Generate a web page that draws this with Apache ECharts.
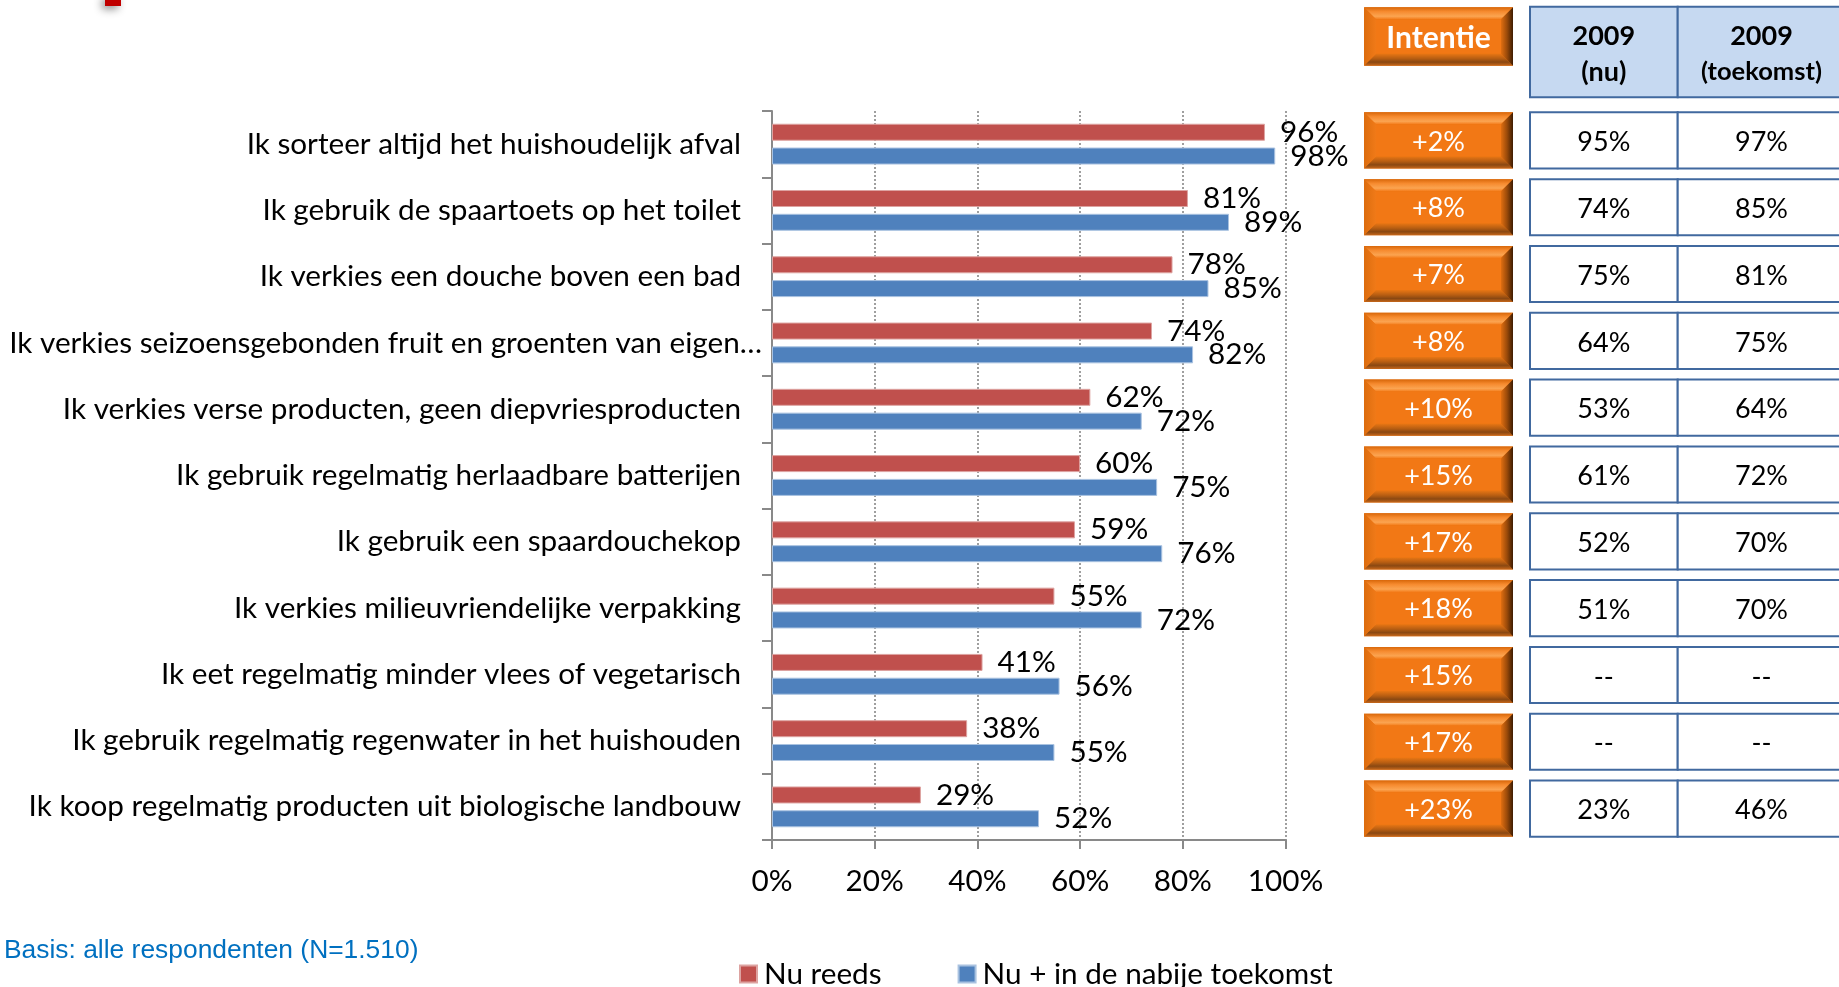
<!DOCTYPE html>
<html><head><meta charset="utf-8">
<script src="https://cdn.jsdelivr.net/npm/echarts@6/dist/echarts.min.js"></script>
<style>html,body{margin:0;padding:0;background:#fff}#c{width:1839px;height:987px}</style>
</head><body><div id="c"></div>
<script>
// ---------------- DATA ----------------
const categories = [
  'Ik sorteer altijd het huishoudelijk afval',
  'Ik gebruik de spaartoets op het toilet',
  'Ik verkies een douche boven een bad',
  'Ik verkies seizoensgebonden fruit en groenten van eigen…',
  'Ik verkies verse producten, geen diepvriesproducten',
  'Ik gebruik regelmatig herlaadbare batterijen',
  'Ik gebruik een spaardouchekop',
  'Ik verkies milieuvriendelijke verpakking',
  'Ik eet regelmatig minder vlees of vegetarisch',
  'Ik gebruik regelmatig regenwater in het huishouden',
  'Ik koop regelmatig producten uit biologische landbouw'
];
const seriesNames = ['Nu reeds', 'Nu + in de nabije toekomst'];
const nuReeds = [96, 81, 78, 74, 62, 60, 59, 55, 41, 38, 29];
const nuToekomst = [98, 89, 85, 82, 72, 75, 76, 72, 56, 55, 52];
const intentie = ['+2%', '+8%', '+7%', '+8%', '+10%', '+15%', '+17%', '+18%', '+15%', '+17%', '+23%'];
const nu2009 = ['95%', '74%', '75%', '64%', '53%', '61%', '52%', '51%', '--', '--', '23%'];
const toekomst2009 = ['97%', '85%', '81%', '75%', '64%', '72%', '70%', '70%', '--', '--', '46%'];
const headerIntentie = 'Intentie';
const headerNu = ['2009', '(nu)'];
const headerToekomst = ['2009', '(toekomst)'];
const basisText = 'Basis: alle respondenten (N=1.510)';

// ---------------- STYLE / LAYOUT ----------------
const FONT = 'Lato';
const FS = 29.7;
const RED = '#C0504D', BLUE = '#4F81BD';
const AXIS_GRAY = '#898989';
const CELL_BORDER = '#41699F';

const chart = echarts.init(document.getElementById('c'), null, {renderer: 'canvas'});

function buttonShape(x, y, w, h, txt, font) {
  const b = 12;
  const LG = echarts.graphic.LinearGradient;
  return {
    type: 'group',
    children: [
      {type: 'rect', shape: {x, y, width: w, height: h}, style: {fill: '#E8720F'}},
      {type: 'polygon', shape: {points: [[x, y], [x + w, y], [x + w - b, y + b], [x + b, y + b]]},
        style: {fill: new LG(0, 0, 0, 1, [{offset: 0, color: '#D8670A'}, {offset: 0.35, color: '#F68A2E'}, {offset: 0.75, color: '#FBA451'}, {offset: 1, color: '#F47C1A'}])}},
      {type: 'polygon', shape: {points: [[x, y + h], [x + w, y + h], [x + w - b, y + h - b], [x + b, y + h - b]]},
        style: {fill: new LG(0, 0, 0, 1, [{offset: 0, color: '#E87614'}, {offset: 0.4, color: '#B85E12'}, {offset: 0.7, color: '#8A4812'}, {offset: 1, color: '#C8681A'}])}},
      {type: 'polygon', shape: {points: [[x, y], [x + b, y + b], [x + b, y + h - b], [x, y + h]]},
        style: {fill: new LG(0, 0, 1, 0, [{offset: 0, color: '#DC6C0E'}, {offset: 1, color: '#F07A18'}])}},
      {type: 'polygon', shape: {points: [[x + w, y], [x + w - b, y + b], [x + w - b, y + h - b], [x + w, y + h]]},
        style: {fill: new LG(0, 0, 1, 0, [{offset: 0, color: '#E06E10'}, {offset: 0.5, color: '#9A4A0A'}, {offset: 1, color: '#3E1C02'}])}},
      {type: 'rect', shape: {x: x + b, y: y + b, width: w - 2 * b, height: h - 2 * b}, style: {fill: '#F27815'}},
      {type: 'text', x: x + w / 2, y: y + h / 2 + 1.5,
        style: {text: txt, fill: '#fff', font: font, align: 'center', verticalAlign: 'middle'}}
    ]
  };
}

function cellShape(x, y, w, h, fill, textStyle, dy) {
  return {
    type: 'group',
    children: [
      {type: 'rect', shape: {x, y, width: w, height: h}, style: {fill: fill, stroke: CELL_BORDER, lineWidth: 2}},
      {type: 'text', x: x + w / 2, y: y + h / 2 + dy,
        style: Object.assign({align: 'center', verticalAlign: 'middle', fill: '#000'}, textStyle)}
    ]
  };
}

// table columns (layout)
const columns = [
  {left: 1364, width: 149, kind: 'button', texts: intentie, header: headerIntentie, hTop: 7.3, hHeight: 58.4},
  {left: 1530, width: 147.7, kind: 'cell', texts: nu2009, header: headerNu, hTop: 6.7, hHeight: 90.6},
  {left: 1677.7, width: 167.6, kind: 'cell', texts: toekomst2009, header: headerToekomst, hTop: 6.7, hHeight: 90.6}
];
const rowsTop = 107, rowsHeight = 735, rowFrac = 0.84;

const grids = [{left: 772, top: 111, width: 513.5, height: 729, containLabel: false, outerBoundsMode: 'none'}];
const xAxes = [{
  type: 'value', gridIndex: 0, min: 0, max: 100, interval: 20,
  axisLine: {show: true, lineStyle: {color: AXIS_GRAY, width: 2}},
  axisTick: {show: true, length: 9, lineStyle: {color: AXIS_GRAY, width: 2}},
  axisLabel: {formatter: '{value}%', margin: 26, fontFamily: FONT, fontSize: FS, color: '#000'},
  splitLine: {show: true, lineStyle: {color: '#808080', width: 1.5, type: [2, 2]}}
}];
const yAxes = [{
  type: 'category', gridIndex: 0, data: categories, inverse: true,
  axisLine: {show: true, lineStyle: {color: AXIS_GRAY, width: 2}},
  axisTick: {show: true, length: 10, lineStyle: {color: AXIS_GRAY, width: 2}},
  splitLine: {show: false},
  axisLabel: {
    interval: 0, margin: 10,
    formatter: v => (v.endsWith('…') ? '{o|' + v + '}' : '{n|' + v + '}'),
    rich: {
      n: {fontFamily: FONT, fontSize: FS, color: '#000', padding: [0, 21, 0, 0]},
      o: {fontFamily: FONT, fontSize: FS, color: '#000'}
    }
  }
}];
const series = [
  {name: seriesNames[0], type: 'bar', xAxisIndex: 0, yAxisIndex: 0, data: nuReeds, barWidth: 17, barGap: '40%',
    itemStyle: {color: RED, borderColor: '#DDA3A1', borderWidth: 1},
    label: {show: true, position: 'right', distance: 15, formatter: '{c}%', fontFamily: FONT, fontSize: FS, color: '#000'}},
  {name: seriesNames[1], type: 'bar', xAxisIndex: 0, yAxisIndex: 0, data: nuToekomst, barWidth: 17, barGap: '40%',
    itemStyle: {color: BLUE, borderColor: '#A9C2E0', borderWidth: 1},
    label: {show: true, position: 'right', distance: 15, formatter: '{c}%', fontFamily: FONT, fontSize: FS, color: '#000'}}
];

columns.forEach((col) => {
  // rows grid
  const gRows = grids.length;
  grids.push({left: col.left, width: col.width, top: rowsTop, height: rowsHeight, containLabel: false, outerBoundsMode: 'none'});
  xAxes.push({type: 'category', gridIndex: gRows, data: [Array.isArray(col.header) ? col.header.join(' ') : col.header], show: false});
  yAxes.push({type: 'category', gridIndex: gRows, data: categories, inverse: true, show: false});
  series.push({
    type: 'custom', xAxisIndex: gRows, yAxisIndex: gRows,
    encode: {x: 0, y: 1},
    data: col.texts.map((t, i) => [0, i]),
    renderItem: (params, api) => {
      const p = api.coord([0, api.value(1)]);
      const s = api.size([1, 1]);
      const w = col.width, h = s[1] * rowFrac;
      const x = p[0] - w / 2, y = p[1] - h / 2;
      const txt = col.texts[params.dataIndex];
      if (col.kind === 'button') return buttonShape(x, y, w, h, txt, '27px ' + FONT);
      return cellShape(x, y, w, h, '#fff', {text: txt, font: '27px ' + FONT}, 2);
    }
  });
  // header grid
  const gHead = grids.length;
  grids.push({left: col.left, width: col.width, top: col.hTop, height: col.hHeight, containLabel: false, outerBoundsMode: 'none'});
  xAxes.push({type: 'category', gridIndex: gHead, data: ['h'], show: false});
  yAxes.push({type: 'category', gridIndex: gHead, data: ['h'], show: false});
  series.push({
    type: 'custom', xAxisIndex: gHead, yAxisIndex: gHead,
    encode: {x: 0, y: 1},
    data: [[0, 0]],
    renderItem: (params, api) => {
      const p = api.coord([0, 0]);
      const s = api.size([1, 1]);
      const w = s[0], h = s[1];
      const x = p[0] - w / 2, y = p[1] - h / 2;
      if (col.kind === 'button') return buttonShape(x, y, w, h, col.header, 'bold 30px ' + FONT);
      const small = col.header[1].length > 5;
      return cellShape(x, y, w, h, '#C6D9F1', {
        text: '{a|' + col.header[0] + '}\n{b|' + col.header[1] + '}',
        rich: {
          a: {fontFamily: FONT, fontWeight: 'bold', fontSize: 27, lineHeight: 36, fill: '#000', color: '#000'},
          b: {fontFamily: FONT, fontWeight: 'bold', fontSize: small ? 25.5 : 27, lineHeight: 36, fill: '#000', color: '#000'}
        }
      }, 2);
    }
  });
});

chart.setOption({
  animation: false,
  backgroundColor: '#fff',
  textStyle: {fontFamily: FONT},
  title: {
    text: basisText, left: 4, top: 938, padding: 0,
    textStyle: {fontFamily: 'Liberation Sans', fontSize: 26.4, fontWeight: 'normal', color: '#0070C0'}
  },
  legend: {
    data: seriesNames, left: 739, top: 959, padding: 0, icon: 'rect',
    itemWidth: 17, itemHeight: 17, itemGap: 76,
    textStyle: {fontFamily: FONT, fontSize: FS, color: '#000', padding: [0, 0, 0, 2]}
  },
  graphic: [{
    type: 'rect', shape: {x: 105, y: -4, width: 16, height: 10},
    style: {fill: '#C00000', shadowBlur: 8, shadowColor: 'rgba(0,0,0,0.45)', shadowOffsetX: -3, shadowOffsetY: 3}
  }],
  grid: grids,
  xAxis: xAxes,
  yAxis: yAxes,
  series: series
});
</script></body></html>
